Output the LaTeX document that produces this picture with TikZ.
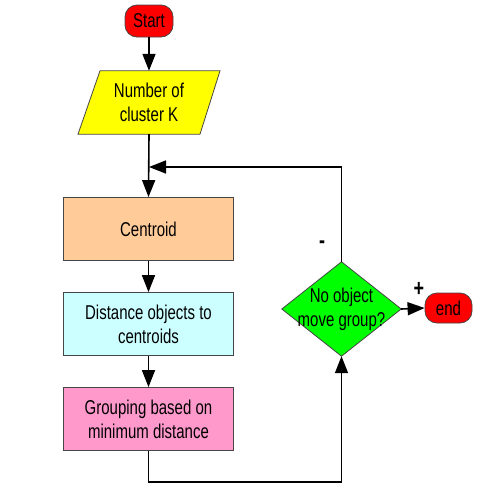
\documentclass[tikz,border=0pt]{standalone}
\usepackage{fontspec}
\setmainfont{Liberation Sans}
\newfontfamily\tallfont[FakeStretch=0.75]{Liberation Sans}
\usetikzlibrary{arrows.meta,calc}

\definecolor{startred}{RGB}{255,0,0}
\definecolor{inyellow}{RGB}{255,255,0}
\definecolor{peach}{RGB}{255,204,153}
\definecolor{paleblue}{RGB}{204,255,255}
\definecolor{pinkish}{RGB}{255,153,204}
\definecolor{brightgreen}{RGB}{0,255,0}
\definecolor{edge}{RGB}{70,70,70}

\tikzset{
  txt/.style={font=\tallfont\fontsize{20}{24}\selectfont, align=center, text=black},
  term/.style={txt, draw=edge, line width=0.8pt, fill=startred,
    rounded corners=12pt, inner sep=0pt},
  procbox/.style={txt, draw=edge, line width=0.8pt, minimum width=170pt,
    minimum height=63pt, inner sep=0pt},
  flow/.style={line width=1.6pt, -{Triangle[length=17pt,width=13pt]}},
  sign/.style={font=\tallfont\bfseries\fontsize{24}{24}\selectfont}
}

\begin{document}
\begin{tikzpicture}[x=1pt,y=-1pt]
  \useasboundingbox (0,0) rectangle (489,496);

  % terminals
  \node[term, minimum width=48pt, minimum height=32pt] (start) at (149,21) {Start};
  \node[term, minimum width=47pt, minimum height=30pt] (stop) at (448.5,308) {end};

  % input parallelogram
  \node[txt, minimum width=120pt, minimum height=63pt, inner sep=0pt] (num) at (149,102.5) {};
  \fill[inyellow, draw=edge, line width=0.8pt]
    ($(num.north)+(-49,0)$) -- ($(num.north)+(71,0)$) --
    ($(num.south)+(51,0)$) -- ($(num.south)+(-71,0)$) -- cycle;
  \node[txt, inner sep=0pt] at (num.center) {Number of\\cluster K};

  % process boxes
  \node[procbox, fill=peach] (cent) at (148.5,229) {Centroid};
  \node[procbox, fill=paleblue] (dist) at (148.5,324) {Distance objects to\\centroids};
  \node[procbox, fill=pinkish] (group) at (148.5,419) {Grouping based on\\minimum distance};

  % decision
  \node[txt, minimum width=119pt, minimum height=94pt, inner sep=0pt] (q) at (341.5,309) {};
  \fill[brightgreen, draw=edge, line width=0.8pt]
    (q.north) -- (q.east) -- (q.south) -- (q.west) -- cycle;
  \node[txt, inner sep=0pt] at (q.center) {No object\\move group?};

  % connectors
  \coordinate (join) at (149,167);
  \coordinate (low) at (149,482);
  \draw[flow] (start) -- (num.north);
  \draw[flow] (num.south) -- (cent.north);
  \draw[flow] (cent) -- (dist);
  \draw[flow] (dist) -- (group);
  \draw[flow] (group.south) -- (group.south |- low) -- (q.south |- low) -- (q.south);
  \draw[flow] (q.north) -- (q.north |- join) -- (join);
  \draw[flow] (q.east) -- (stop.west);

  % branch labels
  \node[sign] (minus) at (322,245) {-};
  \node[sign] (plus) at (419,289) {+};
\end{tikzpicture}
\end{document}
